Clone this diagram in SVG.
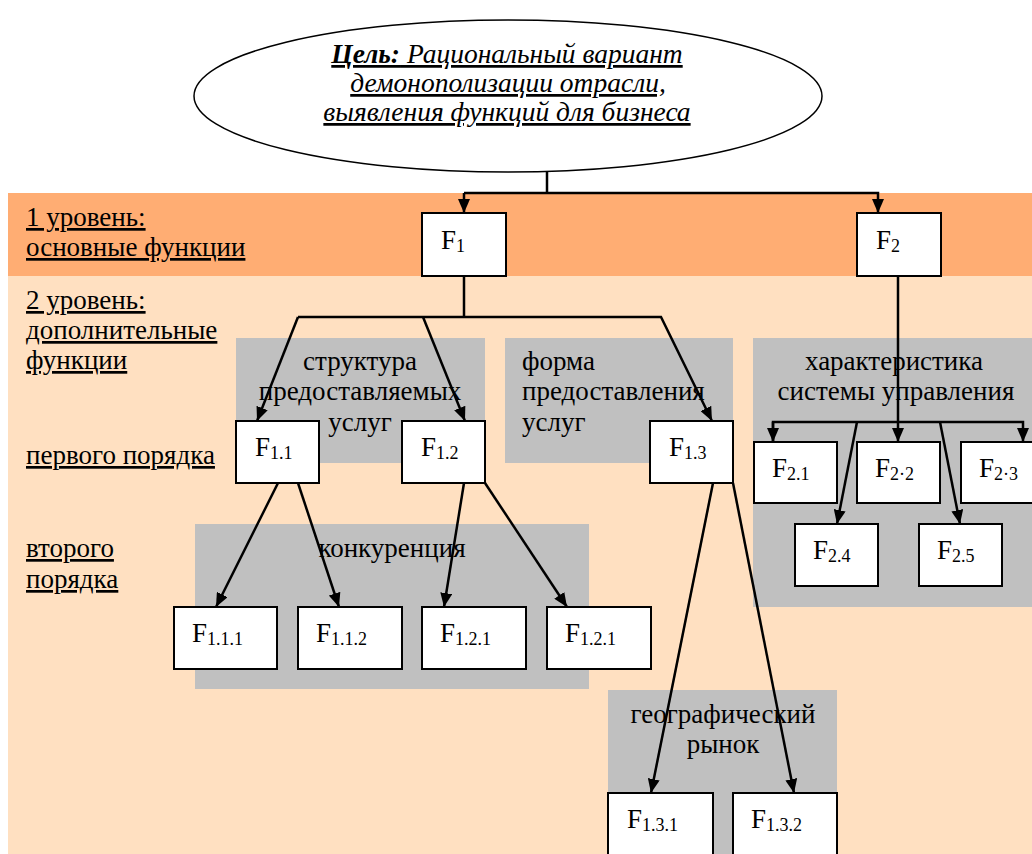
<svg xmlns="http://www.w3.org/2000/svg" width="1032" height="854" viewBox="0 0 1032 854" font-family="'Liberation Serif', 'DejaVu Serif', serif">
<defs>
<marker id="ah" markerUnits="userSpaceOnUse" markerWidth="14" markerHeight="12" viewBox="0 0 14 12" refX="14" refY="6" orient="auto">
<path d="M0,0 L14,6 L0,12 Z" fill="#000"/>
</marker>
<style>
text{font-family:'Liberation Serif','DejaVu Serif',serif;font-size:27px;fill:#000}
.lbl{text-decoration:underline}
.goal{font-style:italic;text-decoration:underline;font-size:27.5px}
.gray{fill:#C0C0C0}
.box{fill:#fff;stroke:#000;stroke-width:2}
.sub{font-size:18px}
.c{text-anchor:middle}
#connectors path{fill:none;stroke:#000;stroke-width:2.5}
.arr{marker-end:url(#ah)}
</style>
</defs>
<rect width="1032" height="854" fill="#fff"/>
<rect x="8" y="193" width="1024" height="83" fill="#FFAD73"/>
<rect x="8" y="276" width="1024" height="578" fill="#FFE0C1"/>
<g id="labels">
<text class="lbl" x="26" y="226">1 уровень:</text>
<text class="lbl" x="26" y="256">основные функции</text>
<text class="lbl" x="26" y="309">2 уровень:</text>
<text class="lbl" x="26" y="339">дополнительные</text>
<text class="lbl" x="26" y="369">функции</text>
<text class="lbl" x="26" y="464">первого порядка</text>
<text class="lbl" x="26" y="557">второго</text>
<text class="lbl" x="26" y="588">порядка</text>
</g>
<g id="group-structure">
<rect class="gray" x="236" y="338" width="249" height="125"/>
<text class="c" x="360" y="370">структура</text>
<text class="c" x="360" y="400">предоставляемых</text>
<text class="c" x="360" y="431">услуг</text>
</g>
<g id="group-form">
<rect class="gray" x="505" y="338" width="228" height="125"/>
<text x="522" y="370">форма</text>
<text x="522" y="400">предоставления</text>
<text x="522" y="431">услуг</text>
</g>
<g id="group-management">
<rect class="gray" x="753" y="338" width="279" height="269"/>
<text class="c" x="894" y="370">характеристика</text>
<text class="c" x="896" y="400">системы управления</text>
</g>
<g id="group-competition">
<rect class="gray" x="195" y="524" width="394" height="165"/>
<text class="c" x="392" y="557">конкуренция</text>
</g>
<g id="group-geo">
<rect class="gray" x="608" y="690" width="229" height="164"/>
<text class="c" x="723" y="723">географический</text>
<text class="c" x="723" y="753">рынок</text>
</g>
<g id="goal">
<ellipse cx="508" cy="96" rx="314" ry="76" fill="#fff" stroke="#000" stroke-width="1.5"/>
<text class="goal c" x="507" y="63"><tspan font-weight="bold">Цель:</tspan> Рациональный вариант</text>
<text class="goal c" x="508" y="92">демонополизации отрасли,</text>
<text class="goal c" x="507" y="121">выявления функций для бизнеса</text>
</g>
<g id="connectors">
<path d="M547,171 V193"/>
<path class="arr" d="M464,193 H878 V213"/>
<path class="arr" d="M464,193 V213"/>
<path d="M464,276 V317"/>
<path class="arr" d="M423,317 L465,421"/>
<path class="arr" d="M298,317 L257,421"/>
<path class="arr" d="M298,317 H661 L712,421"/>
<path class="arr" d="M898,276 V442"/>
<path class="arr" d="M773,442 V422 H1023 V442"/>
<path class="arr" d="M773,422 V442"/>
<path class="arr" d="M857,422 L837,524"/>
<path class="arr" d="M940,422 L960,524"/>
<path class="arr" d="M278,483 L216,607"/>
<path class="arr" d="M298,483 L339,607"/>
<path class="arr" d="M464,483 L444,607"/>
<path class="arr" d="M485,483 L567,607"/>
<path class="arr" d="M713,483 L651,793"/>
<path class="arr" d="M733,483 L794,793"/>
</g>
<g id="F1"><rect class="box" x="422" y="213" width="84" height="63"/><text x="441" y="249">F<tspan class="sub" dy="3">1</tspan></text></g>
<g id="F2"><rect class="box" x="857" y="213" width="84" height="63"/><text x="876" y="249">F<tspan class="sub" dy="3">2</tspan></text></g>
<g id="F1.1"><rect class="box" x="236" y="421" width="83" height="62"/><text x="255" y="456">F<tspan class="sub" dy="3">1.1</tspan></text></g>
<g id="F1.2"><rect class="box" x="402" y="421" width="83" height="62"/><text x="421" y="456">F<tspan class="sub" dy="3">1.2</tspan></text></g>
<g id="F1.3"><rect class="box" x="650" y="421" width="83" height="62"/><text x="669" y="456">F<tspan class="sub" dy="3">1.3</tspan></text></g>
<g id="F2.1"><rect class="box" x="754" y="442" width="83" height="61"/><text x="772" y="477">F<tspan class="sub" dy="3">2.1</tspan></text></g>
<g id="F2.2"><rect class="box" x="857" y="442" width="83" height="61"/><text x="875" y="477">F<tspan class="sub" dy="3">2·2</tspan></text></g>
<g id="F2.3"><rect class="box" x="961" y="442" width="83" height="61"/><text x="979" y="477">F<tspan class="sub" dy="3">2·3</tspan></text></g>
<g id="F2.4"><rect class="box" x="795" y="524" width="83" height="62"/><text x="813" y="559">F<tspan class="sub" dy="3">2.4</tspan></text></g>
<g id="F2.5"><rect class="box" x="919" y="524" width="83" height="62"/><text x="937" y="559">F<tspan class="sub" dy="3">2.5</tspan></text></g>
<g id="F1.1.1"><rect class="box" x="174" y="607" width="103" height="62"/><text x="192" y="642">F<tspan class="sub" dy="3">1.1.1</tspan></text></g>
<g id="F1.1.2"><rect class="box" x="298" y="607" width="104" height="62"/><text x="316" y="642">F<tspan class="sub" dy="3">1.1.2</tspan></text></g>
<g id="F1.2.1"><rect class="box" x="422" y="607" width="104" height="62"/><text x="440" y="642">F<tspan class="sub" dy="3">1.2.1</tspan></text></g>
<g id="F1.2.1b"><rect class="box" x="547" y="607" width="104" height="62"/><text x="565" y="642">F<tspan class="sub" dy="3">1.2.1</tspan></text></g>
<g id="F1.3.1"><rect class="box" x="608" y="793" width="105" height="70"/><text x="627" y="828">F<tspan class="sub" dy="3">1.3.1</tspan></text></g>
<g id="F1.3.2"><rect class="box" x="733" y="793" width="104" height="70"/><text x="751" y="828">F<tspan class="sub" dy="3">1.3.2</tspan></text></g>
</svg>
